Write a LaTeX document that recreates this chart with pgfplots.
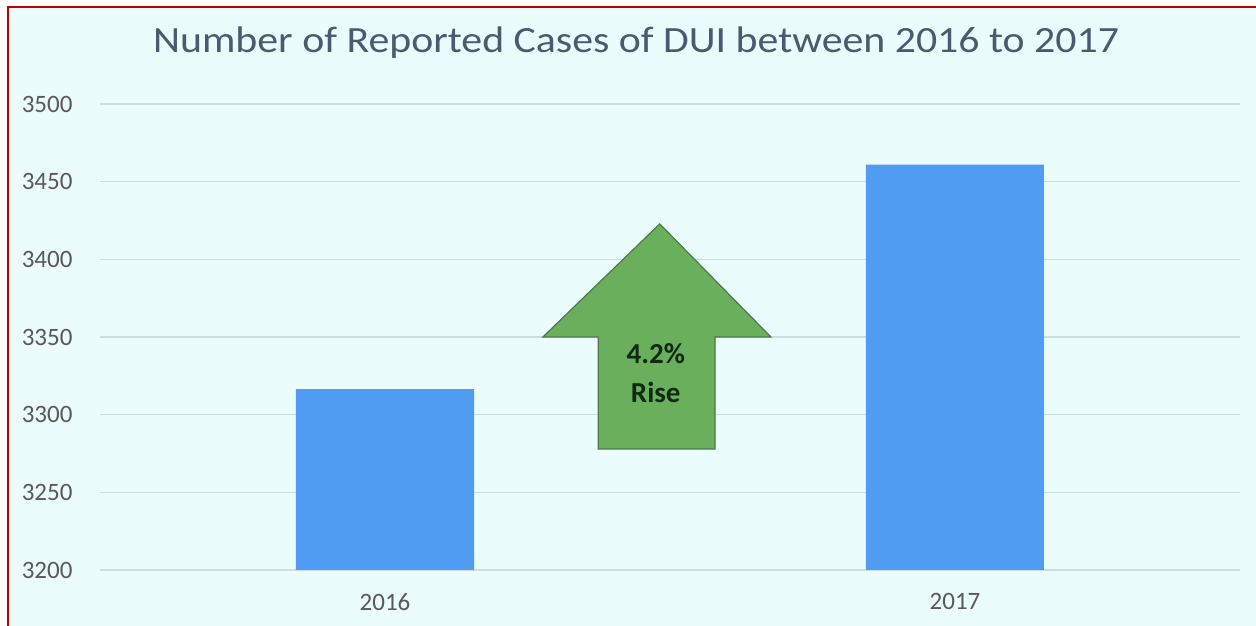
\documentclass[border=0pt]{standalone}
\usepackage{graphicx}
\usepackage{pgfplots}
\pgfplotsset{compat=1.18}
\usepackage{fontspec}
\setmainfont{Carlito}
\definecolor{bg}{HTML}{EBFCFC}
\definecolor{bordred}{HTML}{C00000}
\definecolor{titlec}{HTML}{4A5A70}
\definecolor{tickc}{HTML}{595959}
\definecolor{gridc}{HTML}{CCDDE4}
\definecolor{barc}{HTML}{4F9CF2}
\definecolor{arrowf}{HTML}{6AAF5C}
\definecolor{arrowd}{HTML}{4F7A48}
\definecolor{arrowt}{HTML}{102A12}
\begin{document}
\begin{tikzpicture}
\useasboundingbox (0pt,0pt) rectangle (1256pt,626pt);
\fill[white] (0pt,0pt) rectangle (1256pt,626pt);
\fill[bg] (8pt,0pt) rectangle (1256pt,619pt);
\draw[bordred,line width=2.2pt] (8pt,0pt) -- (8pt,619pt) -- (1256pt,619pt);
\node[font=\fontsize{37}{42}\selectfont,text=titlec] at (636pt,583pt) {\scalebox{1.13}[1]{Number of Reported Cases of DUI between 2016 to 2017}};
\begin{axis}[
  at={(100pt,56pt)}, anchor=south west,
  scale only axis, width=1140pt, height=466pt,
  xmin=-0.5, xmax=1.5, ymin=3200, ymax=3500,
  axis line style={draw=none},
  major tick length=0pt,
  ymajorgrids, grid style={gridc, line width=1.2pt},
  ytick={3200,3250,...,3500},
  xtick={0,1}, xticklabels={2016,2017},
  ticklabel style={font=\fontsize{25}{28}\selectfont, text=tickc},
  yticklabel style={anchor=east, xshift=-24pt},
  xticklabel style={yshift=-20pt},
  /pgf/number format/assume math mode=true,
  /pgf/number format/set thousands separator={},
  clip=false,
]
\addplot[ybar, bar width=178pt, fill=barc, draw=none] coordinates {(0,3316.5) (1,3461)};
\addplot[fill=arrowf, draw=arrowd, line width=1.2pt] coordinates {
  (0.482,3422.8) (0.677,3350) (0.579,3350) (0.579,3277.9)
  (0.374,3277.9) (0.374,3350) (0.277,3350)} -- cycle;
\node[font=\fontsize{29}{32}\selectfont\bfseries, text=arrowt] at (axis cs:0.475,3339) {4.2\%};
\node[font=\fontsize{29}{32}\selectfont\bfseries, text=arrowt] at (axis cs:0.475,3314) {Rise};
\end{axis}
\end{tikzpicture}
\end{document}
